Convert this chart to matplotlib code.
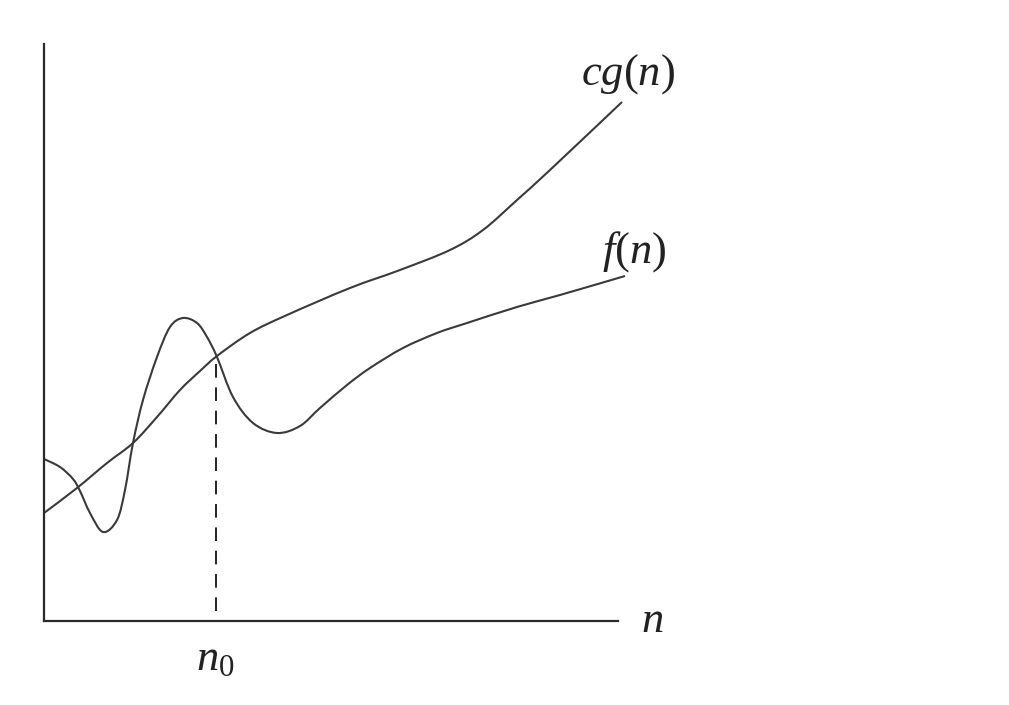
import matplotlib
matplotlib.use("Agg")
import matplotlib.pyplot as plt
from matplotlib.path import Path
from matplotlib.patches import PathPatch

plt.rcParams['mathtext.fontset'] = 'custom'
plt.rcParams['mathtext.it'] = 'Liberation Serif:italic'
plt.rcParams['mathtext.rm'] = 'Liberation Serif'

# values (x = n, y = function value)
cg_x = [0, 33, 63, 89, 113, 136, 156, 173, 206, 243, 306, 356, 406, 439, 473, 506, 578]
cg_y = [108, 133, 158, 178, 204, 231, 250, 265, 288, 306, 333, 351, 371, 391, 421, 451, 519]

f_x = [0, 16, 29, 36, 46, 59, 73, 81, 89, 99, 113, 126, 139, 153, 163, 173, 189, 209, 233, 256, 276, 303, 326, 359, 393, 423, 473, 516, 581]
f_y = [162, 154, 142, 130, 108, 89, 101, 131, 178, 221, 264, 294, 303, 298, 284, 264, 224, 198, 188, 195, 213, 236, 253, 273, 288, 298, 314, 326, 345]

n0 = 172
n0_top = 264
dash_bottom = 10
xmax, ymax = 574, 577


def smooth_path(xs, ys):
    """Catmull-Rom curve through the given points, as cubic Bezier segments."""
    pts = list(zip(xs, ys))
    verts = [pts[0]]
    codes = [Path.MOVETO]
    n = len(pts)
    for i in range(n - 1):
        p0 = pts[i - 1] if i > 0 else pts[i]
        p1 = pts[i]
        p2 = pts[i + 1]
        p3 = pts[i + 2] if i + 2 < n else pts[i + 1]
        c1 = (p1[0] + (p2[0] - p0[0]) / 6.0, p1[1] + (p2[1] - p0[1]) / 6.0)
        c2 = (p2[0] - (p3[0] - p1[0]) / 6.0, p2[1] - (p3[1] - p1[1]) / 6.0)
        verts += [c1, c2, p2]
        codes += [Path.CURVE4] * 3
    return Path(verts, codes)


fig = plt.figure(figsize=(10.09, 7.05), dpi=100)
ax = fig.add_axes([44/1009, 84/705, 574/1009, 577/705])
ax.set_xlim(0, xmax)
ax.set_ylim(0, ymax)
for s in ['top', 'right']:
    ax.spines[s].set_visible(False)
for s in ['left', 'bottom']:
    ax.spines[s].set_linewidth(1.6)
    ax.spines[s].set_color('#2a2a2a')
ax.set_xticks([])
ax.set_yticks([])

for xs, ys in [(cg_x, cg_y), (f_x, f_y)]:
    ax.add_patch(PathPatch(smooth_path(xs, ys), facecolor='none',
                           edgecolor='#3a3a3a', lw=1.5, clip_on=False))

ax.plot([n0, n0], [dash_bottom, n0_top], color='#222222', lw=1.4,
        dashes=(7, 5), clip_on=False)

tkw = dict(fontsize=32, ha='center', va='baseline', color='#222222', clip_on=False)
ax.text(584, 536, r'$cg(n)$', **tkw)
ax.text(590, 358, r'$f(n)$', **tkw)
ax.text(608, -11, r'$n$', **tkw)
ax.text(171, -49, r'$n_{\mathrm{0}}$', **tkw)

fig.savefig('out.png', dpi=100)
